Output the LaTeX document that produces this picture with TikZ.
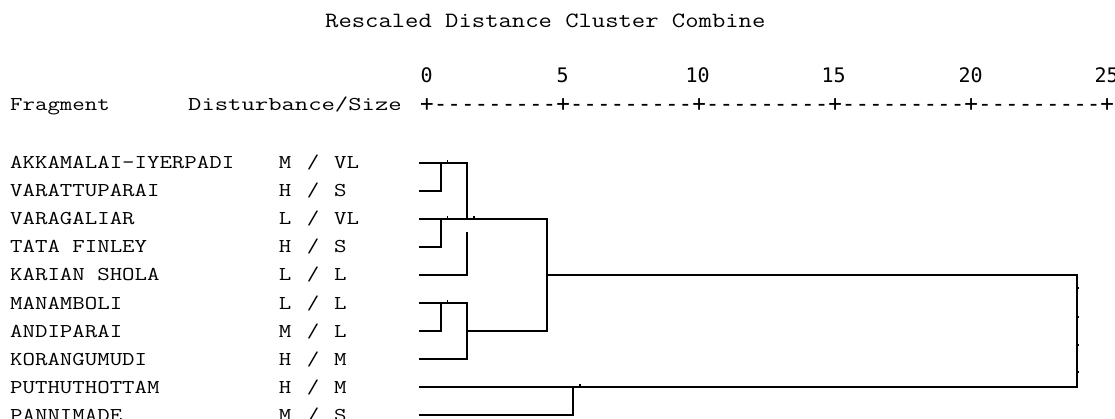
\documentclass[tikz,border=0pt]{standalone}
\usepackage{fontspec}
\usepackage{graphicx}
\newfontfamily\dvm{DejaVu Sans Mono}
\newcommand\wid[2]{\scalebox{#1}[1]{#2}}
\begin{document}
\begin{tikzpicture}[x=1pt,y=-1pt,
  lbl/.style={anchor=base west, inner sep=0pt, font=\fontsize{19.6}{24}\ttfamily},
  lblc/.style={anchor=base, inner sep=0pt, font=\fontsize{19.6}{24}\ttfamily},
  ttl/.style={anchor=base west, inner sep=0pt, font=\fontsize{21.8}{26}\ttfamily},
  axnum/.style={anchor=base, inner sep=0pt, font=\fontsize{20}{24}\dvm},
  axrow/.style={anchor=base west, inner sep=0pt, font=\fontsize{22.6}{27}\dvm},
  dend/.style={line width=1.8pt, line join=miter, line cap=rect},
  tick/.style={line width=1.4pt}]
\useasboundingbox (0,0) rectangle (1115,419);

% title and axis
\node[ttl] (title) at (325,28) {\wid{1.188}{Rescaled Distance Cluster Combine}};
\node[axnum] (n0) at (426.7,83) {0};
\node[axnum] (n5) at (562.7,83) {5};
\node[axnum] (n10) at (697.7,83) {10};
\node[axnum] (n15) at (833.7,83) {15};
\node[axnum] (n20) at (970.7,83) {20};
\node[axnum] (n25) at (1106.7,83) {25};
\node[axrow] (axis) at (420,112) {+---------+---------+---------+---------+---------+};
\node[lbl] (hfrag) at (10,111) {\wid{1.233}{Fragment}};
\node[lbl] (hdist) at (188,111) {\wid{1.322}{Disturbance/Size}};

% row labels
\foreach \i/\nm/\ca/\cb [count=\k] in {
  163/AKKAMALAI-IYERPADI/M/VL,
  191/VARATTUPARAI/H/S,
  219/VARAGALIAR/L/VL,
  247/TATA FINLEY/H/S,
  275/KARIAN SHOLA/L/L,
  303/MANAMBOLI/L/L,
  331/ANDIPARAI/M/L,
  359/KORANGUMUDI/H/M,
  387/PUTHUTHOTTAM/H/M,
  415/PANNIMADE/M/S} {
  \node[lbl] (name\k) at (10,\i+6) {\wid{1.233}{\nm}};
  \node[lblc] (da\k) at (285,\i+6) {\wid{1.233}{\ca}};
  \node[lblc] (ds\k) at (313,\i+6) {\wid{1.233}{/}};
  \node[lbl] (db\k) at (334,\i+6) {\wid{1.233}{\cb}};
  \coordinate (r\k) at (420,\i);
}

% merge points
\coordinate (a1) at (440.7,163); \coordinate (a2) at (440.7,191);
\coordinate (a3) at (440.7,219); \coordinate (a4) at (440.7,247);
\coordinate (a6) at (440.7,303); \coordinate (a7) at (440.7,331);
\coordinate (b1) at (467,163);   \coordinate (b3) at (467,219);
\coordinate (b3g) at (467,233);  \coordinate (b5) at (467,275);
\coordinate (b6) at (467,303);   \coordinate (b7) at (467,331);
\coordinate (b8) at (467,359);
\coordinate (c3) at (546.7,219); \coordinate (c5) at (546.7,275);
\coordinate (c7) at (546.7,331);
\coordinate (d9) at (572.7,387); \coordinate (d10) at (572.7,415);
\coordinate (e5) at (1076.7,275); \coordinate (e9) at (1076.7,387);

% dendrogram
\draw[dend] (r1) -- (b1) -- (b3);
\draw[dend] (r2) -- (a2) -- (a1);
\draw[dend] (r3) -- (c3) -- (c7);
\draw[dend] (r4) -- (a4) -- (a3);
\draw[dend] (r5) -- (b5) -- (b3g);
\draw[dend] (r6) -- (b6) -- (b8);
\draw[dend] (r7) -- (a7) -- (a6);
\draw[dend] (b7) -- (c7);
\draw[dend] (r8) -- (b8);
\draw[dend] (c5) -- (e5) -- (e9);
\draw[dend] (r9) -- (e9);
\draw[dend] (r10) -- (d10) -- (d9);

% small artefact ticks
\foreach \x/\y in {447.7/163, 447.7/219, 474/219, 447.7/303, 580/387}
  \draw[tick] (\x,\y-2.8) -- (\x,\y);
\foreach \y in {288, 317, 345, 372}
  \draw[tick] (1076.7,\y) -- (1078.8,\y);
\end{tikzpicture}
\end{document}
